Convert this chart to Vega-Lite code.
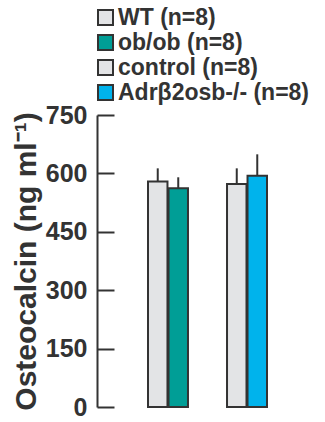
{
  "$schema": "https://vega.github.io/schema/vega-lite/v6.json",
  "width": 228,
  "height": 292,
  "autosize": {"type": "none"},
  "padding": {"left": 97, "top": 115, "right": 0, "bottom": 15},
  "config": {"view": {"stroke": null}, "font": "Liberation Sans"},
  "data": {"values": [
    {"group": "A", "pos": "1", "series": "WT (n=8)", "value": 579, "err": 613},
    {"group": "A", "pos": "2", "series": "ob/ob (n=8)", "value": 562, "err": 590},
    {"group": "B", "pos": "1", "series": "control (n=8)", "value": 573, "err": 613},
    {"group": "B", "pos": "2", "series": "Adrβ2osb-/- (n=8)", "value": 594, "err": 649}
  ]},
  "encoding": {
    "x": {"field": "group", "type": "nominal", "scale": {"domain": ["A", "B"], "range": [51, 170], "paddingInner": 0.494, "paddingOuter": 0}, "axis": null},
    "xOffset": {"field": "pos", "type": "nominal", "scale": {"domain": ["1", "2"], "paddingInner": 0.05}}
  },
  "layer": [
    {
      "mark": {"type": "rule", "stroke": "#333", "strokeWidth": 2},
      "encoding": {
        "y": {"field": "value", "type": "quantitative"},
        "y2": {"field": "err"}
      }
    },
    {
      "mark": {"type": "bar", "stroke": "#333", "strokeWidth": 2},
      "encoding": {
        "y": {"field": "value", "type": "quantitative", "scale": {"domain": [0, 750], "nice": false},
          "axis": {"values": [0, 150, 300, 450, 600, 750], "grid": false, "tickSize": -17, "tickColor": "#333", "tickWidth": 2,
            "domainColor": "#333", "domainWidth": 2, "labelFontSize": 25, "labelFontWeight": "bold", "labelColor": "#333",
            "labelPadding": 27, "title": "Osteocalcin (ng ml⁻¹)", "titleFontSize": 30, "titleFontWeight": "bold", "titleColor": "#333", "titlePadding": 4}},
        "color": {"field": "series", "type": "nominal",
          "scale": {"domain": ["WT (n=8)", "ob/ob (n=8)", "control (n=8)", "Adrβ2osb-/- (n=8)"], "range": ["#e3e4e6", "#009e96", "#e3e4e6", "#00b3ec"]},
          "legend": {"title": null, "orient": "none", "legendX": -3, "legendY": -109, "symbolType": "square", "symbolSize": 225,
            "symbolStrokeColor": "#333", "symbolStrokeWidth": 2, "symbolOpacity": 1, "labelFontSize": 23, "labelFontWeight": "bold",
            "labelColor": "#333", "labelOffset": 1, "rowPadding": 1, "labelLimit": 300}}
      }
    },
    {
      "mark": {"type": "rule", "stroke": "#333", "strokeWidth": 2},
      "encoding": {"y": {"datum": 0}}
    }
  ]
}
